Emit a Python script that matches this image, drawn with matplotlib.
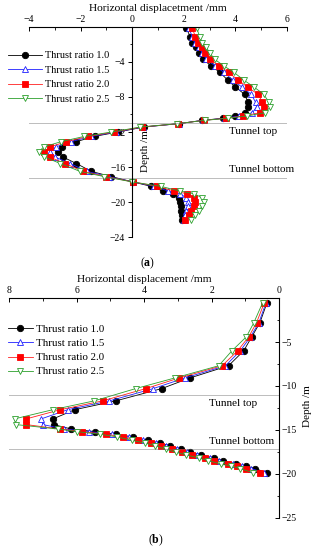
import matplotlib
matplotlib.use("Agg")
import matplotlib.pyplot as plt
from matplotlib.ticker import MultipleLocator

plt.rcParams['font.family'] = ['Liberation Serif', 'DejaVu Serif']
plt.rcParams['mathtext.fontset'] = 'custom'
plt.rcParams['mathtext.rm'] = 'Liberation Serif'
plt.rcParams['mathtext.bf'] = 'Liberation Serif:bold'

# ---- panel (a) data ----
depth_a = [-0.15, -1.1, -1.87, -2.25, -2.93, -3.7, -4.46, -5.2, -6.06, -6.86, -7.7, -8.6,
           -9.14, -9.8, -10.17, -10.43, -10.67, -11.05, -11.43, -12.0, -12.5, -13.1, -13.7,
           -14.25, -14.86, -15.6, -16.5, -17.1, -17.7, -18.2, -18.74, -19.05, -19.5, -20.0,
           -20.5, -21.0, -21.5, -22.0]
black_a = [2.10, 2.25, 2.33, 2.49, 2.58, 2.74, 3.07, 3.40, 3.70, 4.00, 4.36, 4.49, 4.50, 4.36,
           4.00, 3.52, 2.72, 1.81, 0.46, -0.55, -1.45, -2.16, -2.70, -2.87, -2.68, -2.16,
           -1.58, -0.80, 0.03, 0.72, 1.19, 1.58, 1.80, 1.86, 1.90, 1.90, 1.92, 1.95]
blue_a = [2.20, 2.33, 2.42, 2.58, 2.70, 2.88, 3.22, 3.56, 3.90, 4.25, 4.62, 4.78, 4.82, 4.66,
          4.15, 3.60, 2.75, 1.80, 0.42, -0.62, -1.58, -2.36, -2.95, -3.18, -2.98, -2.40,
          -1.75, -0.90, 0.03, 0.85, 1.40, 1.85, 2.10, 2.18, 2.16, 2.10, 2.05, 2.00]
red_a = [2.33, 2.45, 2.55, 2.70, 2.84, 3.02, 3.38, 3.74, 4.10, 4.47, 4.88, 5.05, 5.12, 4.95,
         4.30, 3.65, 2.78, 1.78, 0.38, -0.70, -1.70, -2.55, -3.18, -3.40, -3.20, -2.60,
         -1.90, -1.00, 0.02, 0.98, 1.62, 2.12, 2.40, 2.45, 2.40, 2.30, 2.20, 2.05]
green_a = [2.50, 2.62, 2.72, 2.86, 3.00, 3.20, 3.56, 3.95, 4.32, 4.72, 5.10, 5.30, 5.35, 5.15,
           4.45, 3.72, 2.82, 1.75, 0.32, -0.80, -1.85, -2.75, -3.42, -3.62, -3.40, -2.78,
           -2.02, -1.08, 0.00, 1.10, 1.85, 2.40, 2.70, 2.78, 2.70, 2.58, 2.45, 2.30]

# ---- panel (b) data ----
depth_b = [-0.53, -2.8, -4.4, -6.0, -7.7, -9.1, -10.3, -11.7, -12.7, -13.75, -14.4, -14.9,
           -15.2, -15.5, -15.8, -16.2, -16.5, -16.8, -17.2, -17.55, -17.85, -18.2, -18.5,
           -18.9, -19.1, -19.4, -19.9]
black_b = [0.36, 0.57, 0.81, 1.05, 1.50, 2.65, 3.48, 4.84, 6.05, 6.70, 6.68, 6.16, 5.46, 4.84,
           4.32, 3.90, 3.53, 3.24, 2.92, 2.63, 2.31, 1.94, 1.66, 1.27, 0.99, 0.71, 0.36]
blue_b = [0.39, 0.60, 0.85, 1.15, 1.59, 2.80, 3.73, 5.03, 6.26, 7.05, 7.00, 6.36, 5.62, 4.96,
          4.45, 4.02, 3.65, 3.35, 3.02, 2.73, 2.42, 2.05, 1.77, 1.38, 1.10, 0.82, 0.45]
red_b = [0.44, 0.67, 0.90, 1.23, 1.69, 2.97, 3.95, 5.23, 6.48, 7.49, 7.49, 6.50, 5.84, 5.13,
         4.62, 4.18, 3.80, 3.50, 3.17, 2.88, 2.57, 2.20, 1.92, 1.53, 1.25, 0.97, 0.56]
green_b = [0.49, 0.75, 0.97, 1.40, 1.79, 3.10, 4.25, 5.48, 6.70, 7.84, 7.79, 6.56, 6.00, 5.30,
           4.80, 4.35, 3.98, 3.68, 3.35, 3.06, 2.75, 2.38, 2.10, 1.72, 1.44, 1.16, 0.76]

labels = ["Thrust ratio 1.0", "Thrust ratio 1.5", "Thrust ratio 2.0", "Thrust ratio 2.5"]
tunnel_top = -11.0
tunnel_bottom = -17.2

styles = [
    dict(color='black', marker='o', mfc='black', mec='black'),
    dict(color='#1f1fff', marker='^', mfc='white', mec='#1f1fff'),
    dict(color='#ff2020', marker='s', mfc='#ff0000', mec='#ff0000'),
    dict(color='#2ca02c', marker='v', mfc='white', mec='#2ca02c'),
]

fig = plt.figure(figsize=(3.14, 5.5), dpi=100)

# ---------------- panel (a) ----------------
ax1 = fig.add_axes([0.092, 0.569, 0.822, 0.382])
for xs, st, lab in zip([black_a, blue_a, red_a, green_a], styles, labels):
    ax1.plot(xs, depth_a, lw=0.6, ms=4.6, mew=0.6, label=lab, **st)
ax1.set_xlim(-4, 6)
ax1.set_ylim(-24, 0)
for s in ['right', 'bottom']:
    ax1.spines[s].set_visible(False)
ax1.spines['left'].set_position(('data', 0))
ax1.spines['left'].set_linewidth(0.8)
ax1.spines['top'].set_linewidth(0.8)
ax1.xaxis.tick_top()
ax1.xaxis.set_label_position('top')
ax1.xaxis.set_major_locator(MultipleLocator(2))
ax1.xaxis.set_minor_locator(MultipleLocator(1))
ax1.set_yticks([-4, -8, -12, -16, -20, -24])
ax1.yaxis.set_minor_locator(MultipleLocator(2))
ax1.tick_params(axis='x', which='both', direction='in', labelsize=7, pad=2)
ax1.tick_params(axis='x', which='major', length=3, width=0.7)
ax1.tick_params(axis='x', which='minor', length=1.8, width=0.6)
ax1.tick_params(axis='y', which='both', direction='out', labelsize=7, pad=2)
ax1.tick_params(axis='y', which='major', length=3, width=0.7)
ax1.tick_params(axis='y', which='minor', length=1.8, width=0.6)
ax1.set_xlabel("Horizontal displacetment /mm", fontsize=8.2, labelpad=3)
ax1.set_ylabel("Depth /m", fontsize=8)
ax1.yaxis.set_label_coords(0.47, 0.41)
ax1.axhline(tunnel_top, color='#666666', ls=(0, (1.2, 1.2)), lw=0.6)
ax1.axhline(tunnel_bottom, color='#666666', ls=(0, (1.2, 1.2)), lw=0.6)
ax1.text(3.75, tunnel_top - 0.9, "Tunnel top", fontsize=8, va='center', ha='left')
ax1.text(3.75, tunnel_bottom + 0.9, "Tunnel bottom", fontsize=8, va='center', ha='left')
ax1.legend(loc='upper left', bbox_to_anchor=(-0.081, 0.885), frameon=False, fontsize=7.5,
           handlelength=3.3, handletextpad=0.3, labelspacing=0.5, borderpad=0,
           borderaxespad=0)

# ---------------- panel (b) ----------------
ax2 = fig.add_axes([0.029, 0.0587, 0.86, 0.3993])
for xs, st, lab in zip([black_b, blue_b, red_b, green_b], styles, labels):
    ax2.plot(xs, depth_b, lw=0.6, ms=4.6, mew=0.6, label=lab, **st)
ax2.set_xlim(8, 0)
ax2.set_ylim(-25, 0)
for s in ['left', 'bottom']:
    ax2.spines[s].set_visible(False)
ax2.spines['right'].set_linewidth(0.8)
ax2.spines['top'].set_linewidth(0.8)
ax2.xaxis.tick_top()
ax2.xaxis.set_label_position('top')
ax2.yaxis.tick_right()
ax2.yaxis.set_label_position('right')
ax2.xaxis.set_major_locator(MultipleLocator(2))
ax2.xaxis.set_minor_locator(MultipleLocator(1))
ax2.set_yticks([-5, -10, -15, -20, -25])
ax2.yaxis.set_minor_locator(MultipleLocator(2.5))
ax2.tick_params(axis='both', which='both', direction='in', labelsize=7, pad=2)
ax2.tick_params(axis='both', which='major', length=3, width=0.7)
ax2.tick_params(axis='both', which='minor', length=1.8, width=0.6)
ax2.set_xlabel("Horizontal displacement /mm", fontsize=8.2, labelpad=3)
ax2.set_ylabel("Depth /m", fontsize=8)
ax2.yaxis.set_label_coords(1.09, 0.51)
ax2.axhline(tunnel_top, color='#666666', ls=(0, (1.2, 1.2)), lw=0.6)
ax2.axhline(tunnel_bottom, color='#666666', ls=(0, (1.2, 1.2)), lw=0.6)
ax2.text(2.09, tunnel_top - 1.0, "Tunnel top", fontsize=8, va='center', ha='left')
ax2.text(2.09, tunnel_bottom + 0.9, "Tunnel bottom", fontsize=8, va='center', ha='left')
ax2.legend(loc='upper left', bbox_to_anchor=(-0.004, 0.88), frameon=False, fontsize=7.8,
           handlelength=2.3, handletextpad=0.3, labelspacing=0.42, borderpad=0,
           borderaxespad=0)

fig.text(0.47, 0.522, r"($\mathbf{a}$)", fontsize=8.5, ha='center', va='center')
fig.text(0.495, 0.018, r"($\mathbf{b}$)", fontsize=8.5, ha='center', va='center')

fig.savefig("out.png", dpi=100)
